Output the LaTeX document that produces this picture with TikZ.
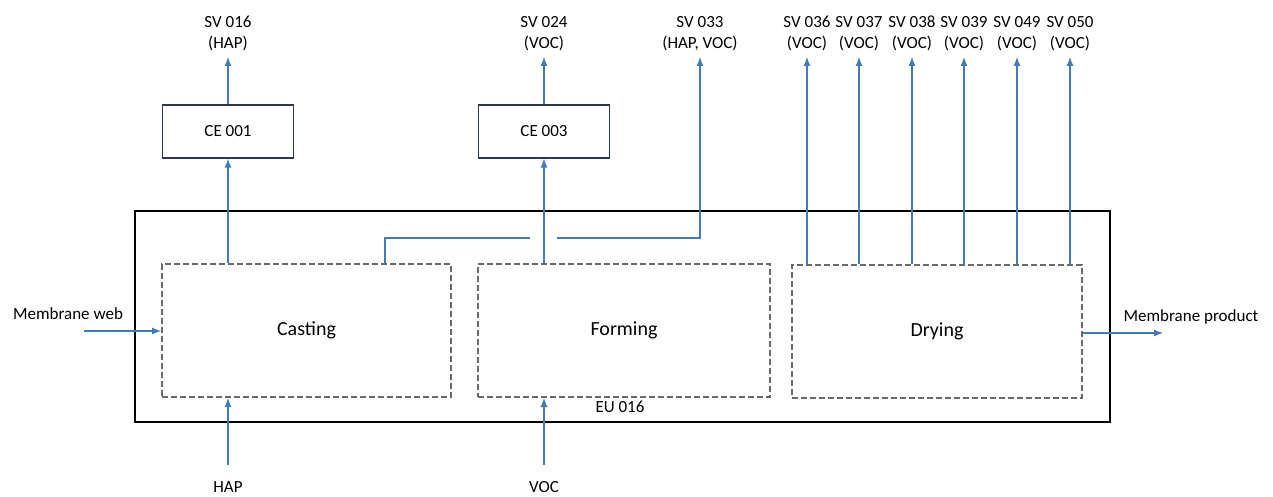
\documentclass[tikz,border=0pt]{standalone}
\usepackage{fontspec}
\setmainfont{Carlito}
\usetikzlibrary{arrows.meta}
\definecolor{flow}{RGB}{66,124,184}
\definecolor{dashgray}{RGB}{105,105,105}
\definecolor{ceborder}{RGB}{45,55,80}
\tikzset{
  txt/.style={font=\fontsize{17}{21}\selectfont, inner sep=2pt, align=center},
  stage/.style={draw=dashgray, line width=2pt, dash pattern=on 6pt off 3pt, minimum height=133pt, font=\fontsize{20}{24}\selectfont},
  cebox/.style={draw=ceborder, line width=1.4pt, minimum width=131pt, minimum height=53pt, font=\fontsize{17}{21}\selectfont},
  outerbox/.style={draw=black, line width=1.5pt, minimum width=975pt, minimum height=211pt},
  flowline/.style={draw=flow, line width=1.1pt},
  arr/.style={flowline, -{Latex[length=9pt,width=7pt]}},
  svlabel/.style={txt, anchor=south, inner ysep=6pt},
}
\begin{document}
\begin{tikzpicture}[x=1pt,y=-1pt]
\useasboundingbox (0,0) rectangle (1273,497);

% outer boundary EU 016
\node[outerbox] (eu) at (622.5,316.5) {};
\node[txt] (eulabel) at (620,407) {EU 016};

% process stages
\node[stage, minimum width=289pt] (casting) at (306.5,330.5) {Casting};
\node[stage, minimum width=292pt] (forming) at (624,330.5) {Forming};
\node[stage, minimum width=290pt] (drying) at (937,331.5) {Drying};

% control equipment
\node[cebox] (ce1) at (228,131.5) {CE 001};
\node[cebox] (ce3) at (544,131.5) {CE 003};

% stack labels
\node[svlabel] (sv016) at (228,57) {SV 016\\(HAP)};
\node[svlabel] (sv024) at (544,57) {SV 024\\(VOC)};
\node[svlabel] (sv033) at (700,57) {SV 033\\(HAP, VOC)};
\node[svlabel] (sv036) at (807,57) {SV 036\\(VOC)};
\node[svlabel] (sv037) at (859,57) {SV 037\\(VOC)};
\node[svlabel] (sv038) at (912,57) {SV 038\\(VOC)};
\node[svlabel] (sv039) at (964,57) {SV 039\\(VOC)};
\node[svlabel] (sv049) at (1017,57) {SV 049\\(VOC)};
\node[svlabel] (sv050) at (1070,57) {SV 050\\(VOC)};

% inputs / outputs
\node[txt] (mweb) at (68,314) {Membrane web};
\node[txt] (mprod) at (1191,317) {Membrane product};
\node[txt] (hap) at (228,487) {HAP};
\node[txt] (voc) at (544,487) {VOC};

\coordinate (wstart) at (84,331);
\coordinate (pend) at (1163,333);
\coordinate (h1) at (385,238);
\coordinate (h2) at (530,238);
\coordinate (h3) at (557,238);
\coordinate (h4) at (700,238);

% casting -> CE 001 -> SV 016
\draw[arr] (casting.north -| ce1.south) -- (ce1.south);
\draw[arr] (ce1.north) -- (sv016.south);
% forming -> CE 003 -> SV 024
\draw[arr] (forming.north -| ce3.south) -- (ce3.south);
\draw[arr] (ce3.north) -- (sv024.south);
% casting -> SV 033 (crossing with a gap)
\draw[flowline] (casting.north -| h1) -- (h1) -- (h2);
\draw[arr] (h3) -- (h4) -- (sv033.south);
% drying stacks
\foreach \s in {sv036,sv037,sv038,sv039,sv049,sv050}{
  \draw[arr] (drying.north -| \s.south) -- (\s.south);
}
% inputs
\draw[arr] (wstart) -- (casting.west |- wstart);
\draw[arr, shorten <=14pt] (hap.north) -- (casting.south -| hap.north);
\draw[arr, shorten <=14pt] (voc.north) -- (forming.south -| voc.north);
% output
\draw[arr] (drying.east |- pend) -- (pend);
\end{tikzpicture}
\end{document}
